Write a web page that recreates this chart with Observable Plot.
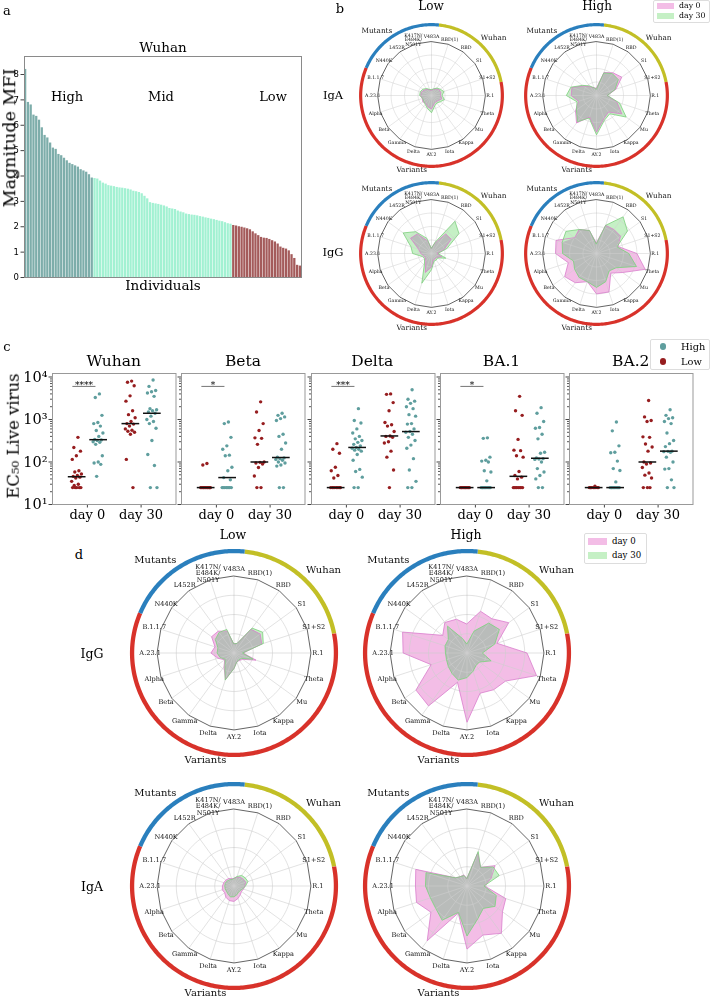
<!DOCTYPE html>
<html><head><meta charset="utf-8">
<script src="https://cdn.jsdelivr.net/npm/d3@7"></script>
<script src="https://cdn.jsdelivr.net/npm/@observablehq/plot@0.6"></script>
<style>
body{margin:0;background:#fff;}
#fig{position:relative;width:710px;height:999px;overflow:hidden;font-family:"DejaVu Serif",serif;background:#fff;}
.lbl{position:absolute;white-space:nowrap;line-height:1;}
.plt{position:absolute;will-change:transform;}
.leg{position:absolute;border:1px solid #ddd;border-radius:2px;background:#fff;box-sizing:border-box;}
</style></head><body><div id="fig"></div><script>
// ---------- Panel a data ----------
const highMFI = [8.2,6.9,6.8,6.4,6.35,6.2,5.9,5.6,5.5,5.3,5.1,5.05,4.85,4.8,4.7,4.6,4.5,4.45,4.4,4.35,4.25,4.2,4.15,4.05,3.92];
const midMFI = [3.9,3.88,3.8,3.72,3.68,3.62,3.6,3.58,3.55,3.53,3.52,3.5,3.48,3.45,3.4,3.38,3.35,3.3,3.2,3.1,2.95,2.92,2.9,2.88,2.85,2.82,2.78,2.72,2.7,2.68,2.62,2.58,2.55,2.5,2.48,2.46,2.45,2.43,2.4,2.38,2.35,2.33,2.3,2.28,2.25,2.22,2.2,2.16,2.12,2.1];
const lowMFI = [2.05,2.03,2.0,1.98,1.95,1.92,1.88,1.8,1.72,1.65,1.58,1.55,1.54,1.5,1.45,1.4,1.32,1.2,1.15,1.12,1.05,0.9,0.75,0.48,0.45];
const mfiTicks = [0,1,2,3,4,5,6,7,8];

// ---------- Radar data ----------
const cats = ["V483A","RBD(1)","RBD","S1","S1+S2","R.1","Theta","Mu","Kappa","Iota","AY.2","Delta","Gamma","Beta","Alpha","A.23.1","B.1.1.7","N440K","L452R","K417N/\nE484K/\nN501Y"];
const ringGroups = [
  {name:"Wuhan", a0:6, a1:79, color:"#c2bf26"},
  {name:"Variants", a0:79, a1:293, color:"#d8322a"},
  {name:"Mutants", a0:293, a1:366, color:"#2a7fbd"}
];
// b panel
const bIgALow0   = [0.10,0.12,0.15,0.18,0.18,0.17,0.20,0.16,0.14,0.16,0.25,0.22,0.18,0.20,0.18,0.20,0.20,0.17,0.14,0.11];
const bIgALow30  = [0.11,0.13,0.17,0.20,0.24,0.20,0.25,0.20,0.17,0.20,0.32,0.25,0.20,0.18,0.17,0.22,0.22,0.20,0.16,0.12];
const bIgAHigh0  = [0.14,0.45,0.52,0.58,0.38,0.20,0.40,0.58,0.38,0.45,0.68,0.42,0.63,0.48,0.35,0.47,0.48,0.30,0.20,0.15];
const bIgAHigh30 = [0.12,0.44,0.50,0.50,0.36,0.20,0.45,0.68,0.42,0.48,0.73,0.44,0.60,0.46,0.38,0.56,0.50,0.32,0.22,0.15];
const bIgGLow0   = [0.10,0.20,0.45,0.45,0.25,0.10,0.20,0.12,0.12,0.12,0.25,0.37,0.18,0.14,0.15,0.20,0.25,0.48,0.45,0.25];
const bIgGLow30  = [0.10,0.22,0.74,0.63,0.30,0.12,0.28,0.14,0.15,0.15,0.30,0.58,0.22,0.16,0.18,0.35,0.40,0.65,0.50,0.30];
const bIgGHigh0  = [0.20,0.55,0.55,0.55,0.42,0.75,0.95,0.60,0.45,0.75,0.75,0.55,0.67,0.73,0.55,0.76,0.79,0.50,0.55,0.45];
const bIgGHigh30 = [0.18,0.55,0.84,0.71,0.40,0.60,0.78,0.45,0.40,0.55,0.63,0.55,0.55,0.50,0.45,0.63,0.67,0.70,0.55,0.45];
// d panel
const dIgGLow0   = [0.12,0.13,0.38,0.42,0.38,0.12,0.30,0.14,0.12,0.12,0.20,0.36,0.22,0.15,0.22,0.30,0.26,0.36,0.35,0.30];
const dIgGLow30  = [0.12,0.13,0.40,0.46,0.40,0.11,0.26,0.12,0.11,0.12,0.20,0.37,0.20,0.14,0.19,0.22,0.22,0.30,0.33,0.32];
const dIgGHigh0  = [0.38,0.57,0.55,0.67,0.41,0.78,0.95,0.62,0.59,0.55,0.90,0.40,0.85,0.82,0.49,0.83,0.88,0.39,0.49,0.46];
const dIgGHigh30 = [0.12,0.30,0.48,0.52,0.38,0.20,0.33,0.20,0.20,0.25,0.32,0.37,0.33,0.30,0.28,0.28,0.30,0.30,0.43,0.20];
const dIgALow0   = [0.10,0.12,0.14,0.15,0.16,0.14,0.13,0.12,0.14,0.17,0.20,0.20,0.18,0.15,0.16,0.15,0.14,0.13,0.12,0.10];
const dIgALow30  = [0.10,0.13,0.17,0.18,0.19,0.15,0.12,0.10,0.10,0.12,0.14,0.15,0.13,0.12,0.12,0.12,0.12,0.11,0.10,0.09];
const dIgAHigh0  = [0.10,0.45,0.30,0.45,0.33,0.23,0.53,0.57,0.76,0.67,0.82,0.37,0.88,0.58,0.69,0.67,0.70,0.18,0.15,0.15];
const dIgAHigh30 = [0.10,0.47,0.30,0.42,0.44,0.22,0.40,0.45,0.36,0.45,0.65,0.36,0.55,0.50,0.50,0.54,0.56,0.18,0.15,0.14];

// ---------- Panel c data (EC50) ----------
const wuhanLow0   = [380,220,180,140,115,62,58,52,48,46,44,42,35,30,28,25,25,25,25,25];
const wuhanHigh0  = [4000,3300,1250,850,800,700,550,480,400,340,330,320,300,290,260,140,100,95,88,46];
const wuhanLow30  = [8000,7500,6200,3600,2700,1600,1300,1100,900,800,780,700,600,560,530,500,450,115,25];
const wuhanHigh30 = [8500,6000,4800,4500,4200,3500,1800,1700,1600,1500,1400,1200,1000,900,800,620,320,150,83,25,25];
const betaLow0    = [92,85,25,25,25,25,25,25,25,25,25,25,25,25,25,25];
const betaHigh0   = [870,800,380,240,200,145,140,75,62,43,38,25,25,25,25,25,25,25,25];
const betaLow30   = [2600,1500,800,550,370,360,260,100,98,95,90,74,47,25,25];
const betaHigh30  = [1400,1250,1150,1050,950,450,400,280,200,130,125,120,115,110,100,95,85,80,25,25];
const deltaLow0   = [270,200,160,75,62,48,42,25,25,25,25,25,25,25,25,25];
const deltaHigh0  = [1800,950,830,600,480,400,350,320,290,260,240,220,210,200,190,180,150,110,67,60,44,25,25];
const deltaLow30  = [4000,3900,2500,1600,850,750,700,520,410,400,380,300,280,180,130,65,25];
const deltaHigh30 = [5000,3000,2700,2400,2000,1800,1300,1200,800,780,600,520,500,450,380,320,250,210,120,65,35,25,25];
const ba1Low0     = [25,25,25,25,25,25,25,25,25,25,25,25];
const ba1High0    = [370,360,130,110,105,100,62,58,36,25,25,25,25,25,25,25,25,25,25,25];
const ba1Low30    = [3500,1600,1250,340,190,185,140,130,60,48,44,40,25,25,25,25,25,25,25,25];
const ba1High30   = [1900,1400,900,650,620,450,350,170,160,125,120,118,115,100,70,58,48,40,25,25];
const ba2Low0     = [27,25,25,25,25,25,25,25,25,25];
const ba2High0    = [870,540,240,170,165,105,70,63,34,25,25,25,25,25,25,25,25,25,25,25];
const ba2Low30    = [2800,1150,950,900,390,380,265,225,180,100,95,90,74,55,49,42,25,25,25];
const ba2High30   = [1700,1250,1100,1050,900,800,480,320,270,230,180,178,175,170,130,100,70,68,38,25,25];
const ecMajor = [10,100,1000,10000];
const ecMinor = [20,30,40,50,60,70,80,90,200,300,400,500,600,700,800,900,2000,3000,4000,5000,6000,7000,8000,9000];
const dayTicks = [0,1];
const dayNames = ["day 0","day 30"];

const RED = "#961d1f", TEAL = "#5f9e9e";
const PINKF = "#f3bde6", GREENF = "#c5f0c5", GREYF = "#b9bcba", PINKS = "#d97dcd", GREENS = "#7ccf7c";

const fig = document.getElementById("fig");
function txt(s, x, y, size, o = {}) {
  const el = document.createElement("div");
  el.className = "lbl";
  el.textContent = s;
  el.style.left = x + "px"; el.style.top = y + "px";
  el.style.fontSize = size + "px";
  el.style.fontFamily = o.family || '"DejaVu Serif", serif';
  const tx = o.anchor === "start" ? "0" : o.anchor === "end" ? "-100%" : "-50%";
  el.style.transform = `translate(${tx},-50%)` + (o.rotate ? ` rotate(${o.rotate}deg)` : "");
  fig.appendChild(el);
  return el;
}
function place(svg, left, top) {
  svg.classList.add("plt");
  svg.style.left = left + "px"; svg.style.top = top + "px";
  fig.appendChild(svg);
}

// ---------- Panel a ----------
const bars = [
  ...highMFI.map(v => ({v, g:"High"})),
  ...midMFI.map(v => ({v, g:"Mid"})),
  ...lowMFI.map(v => ({v, g:"Low"}))
].map((d, i) => ({...d, i}));
const aPlot = Plot.plot({
  width: 310, height: 290, marginLeft: 24, marginRight: 9, marginTop: 56, marginBottom: 13,
  x: {type: "band", domain: bars.map(d => d.i), paddingInner: 0.18, paddingOuter: 0, axis: null},
  y: {domain: [0, 8.71]},
  color: {domain: ["High","Mid","Low"], range: ["#7dadaa","#a2f1d2","#a45b5b"]},
  style: {background: "none", fontFamily: '"DejaVu Sans", sans-serif', overflow: "visible"},
  marks: [
    Plot.barY(bars, {x: "i", y: "v", fill: "g"}),
    Plot.axisY(mfiTicks, {tickSize: 3.5, tickPadding: 2, fontSize: 8.5, label: null, stroke: "#444"}),
    Plot.frame({stroke: "#8a8a8a"})
  ]
});
place(aPlot, 0, 0);
txt("a", 7, 10, 13);
txt("Wuhan", 163, 48, 13.5);
txt("High", 67, 96, 13);
txt("Mid", 161, 96, 13);
txt("Low", 273, 96, 13);
txt("Individuals", 163, 286, 13.5);
txt("Magnitude MFI", 10, 138, 17.5, {rotate: -90});

// ---------- Radar ----------
function radar(v0, v30, o) {
  const {unit, ringR, ringW, catFont, grpFont, gridW} = o;
  const D = 1.8, size = Math.round(2 * D * unit);
  const N = cats.length;
  const th = i => i * 2 * Math.PI / N;
  const X = d => d.v * Math.sin(th(d.i)), Y = d => d.v * Math.cos(th(d.i));
  const s0 = v0.map((v, i) => ({i, v}));
  const s30 = v30.map((v, i) => ({i, v}));
  const smin = v0.map((v, i) => ({i, v: Math.min(v, v30[i])}));
  const rim = cats.map((c, i) => ({i, v: 1}));
  const circ = [0.25, 0.5, 0.75].flatMap(r => d3.range(0, 361, 3).map(a => ({r, a})));
  const rr = ringR / unit;
  const arcMarks = ringGroups.map(g => Plot.line(d3.range(g.a0, g.a1 + 0.01, 1).map(a => ({a})), {
    x: d => rr * Math.sin(d.a * Math.PI / 180), y: d => rr * Math.cos(d.a * Math.PI / 180),
    stroke: g.color, strokeWidth: ringW, strokeLinecap: "butt"
  }));
  const grpLabels = [
    {name: "Wuhan", a: 47, r: rr * 1.2},
    {name: "Mutants", a: 320, r: rr * 1.2},
    {name: "Variants", a: 195, r: rr * 1.08}
  ];
  return Plot.plot({
    width: size, height: size, margin: 0,
    x: {domain: [-D, D], axis: null}, y: {domain: [-D, D], axis: null},
    style: {background: "none", overflow: "visible", fontFamily: '"DejaVu Serif", serif'},
    marks: [
      Plot.line(s0, {x: X, y: Y, curve: "linear-closed", fill: PINKF, stroke: "none"}),
      Plot.line(s30, {x: X, y: Y, curve: "linear-closed", fill: GREENF, stroke: "none"}),
      Plot.line(smin, {x: X, y: Y, curve: "linear-closed", fill: GREYF, stroke: "none"}),
      Plot.line(circ, {x: d => d.r * Math.sin(d.a * Math.PI / 180), y: d => d.r * Math.cos(d.a * Math.PI / 180), z: "r", stroke: "#cfcfcf", strokeWidth: gridW}),
      Plot.link(rim, {x1: 0, y1: 0, x2: X, y2: Y, stroke: "#cfcfcf", strokeWidth: gridW}),
      Plot.line(s0, {x: X, y: Y, curve: "linear-closed", stroke: PINKS, strokeWidth: 0.8}),
      Plot.line(s30, {x: X, y: Y, curve: "linear-closed", stroke: GREENS, strokeWidth: 0.8}),
      Plot.line(rim, {x: X, y: Y, curve: "linear-closed", stroke: "#222", strokeWidth: 0.7}),
      ...arcMarks,
      Plot.text(rim, {x: d => 1.09 * Math.sin(th(d.i)), y: d => 1.09 * Math.cos(th(d.i)), text: d => cats[d.i], fontSize: catFont, lineAnchor: "middle", fill: "#111", lineHeight: 0.95}),
      Plot.text(grpLabels, {x: d => d.r * Math.sin(d.a * Math.PI / 180), y: d => d.r * Math.cos(d.a * Math.PI / 180), text: "name", fontSize: grpFont, lineAnchor: "middle", fill: "#111"})
    ]
  });
}
const bOpt = {unit: 54, ringR: 71, ringW: 3.2, catFont: 4.7, grpFont: 7.3, gridW: 0.5};
const dOpt = {unit: 77, ringR: 102, ringW: 4.3, catFont: 6.6, grpFont: 10, gridW: 0.6};
function placeRadar(v0, v30, opt, cx, cy) {
  const svg = radar(v0, v30, opt);
  const size = Math.round(2 * 1.8 * opt.unit);
  place(svg, cx - size / 2, cy - size / 2);
}
placeRadar(bIgALow0, bIgALow30, bOpt, 431, 95);
placeRadar(bIgAHigh0, bIgAHigh30, bOpt, 596, 95);
placeRadar(bIgGLow0, bIgGLow30, bOpt, 431, 253);
placeRadar(bIgGHigh0, bIgGHigh30, bOpt, 596, 253);
txt("b", 340, 8, 13);
txt("Low", 431, 6, 12);
txt("High", 597, 6, 12);
txt("IgA", 333, 96, 11.5);
txt("IgG", 333, 253, 11.5);

placeRadar(dIgGLow0, dIgGLow30, dOpt, 233, 652);
placeRadar(dIgGHigh0, dIgGHigh30, dOpt, 466, 652);
placeRadar(dIgALow0, dIgALow30, dOpt, 233, 885);
placeRadar(dIgAHigh0, dIgAHigh30, dOpt, 466, 885);
txt("d", 79, 554, 13);
txt("Low", 233, 535, 12.5);
txt("High", 466, 535, 12.5);
txt("IgG", 92, 654, 12.5);
txt("IgA", 92, 887, 12.5);

function radarLegend(left, top, w, h, sw, fs, rowY) {
  const box = document.createElement("div");
  box.className = "leg";
  box.style.left = left + "px"; box.style.top = top + "px";
  box.style.width = w + "px"; box.style.height = h + "px";
  fig.appendChild(box);
  [[PINKF, "day 0"], [GREENF, "day 30"]].forEach(([c, t], k) => {
    const s = document.createElement("div");
    s.style.cssText = `position:absolute;left:${left + 4}px;top:${rowY[k] - sw[1] / 2}px;width:${sw[0]}px;height:${sw[1]}px;background:${c};`;
    fig.appendChild(s);
    txt(t, left + 6 + sw[0] + 3, rowY[k], fs, {anchor: "start"});
  });
}
radarLegend(653, 0, 57, 23, [17, 6], 7.8, [5.5, 16]);
radarLegend(584, 533, 63, 31, [19, 7], 8.6, [541, 555]);

// ---------- Panel c ----------
const viruses = [
  {name: "Wuhan", sets: [wuhanLow0, wuhanHigh0, wuhanLow30, wuhanHigh30], sig: "****"},
  {name: "Beta", sets: [betaLow0, betaHigh0, betaLow30, betaHigh30], sig: "*"},
  {name: "Delta", sets: [deltaLow0, deltaHigh0, deltaLow30, deltaHigh30], sig: "***"},
  {name: "BA.1", sets: [ba1Low0, ba1High0, ba1Low30, ba1High30], sig: "*"},
  {name: "BA.2", sets: [ba2Low0, ba2High0, ba2Low30, ba2High30], sig: null}
];
const sup = {1: "¹", 2: "²", 3: "³", 4: "⁴"};
const setMeta = [[0, "Low"], [0, "High"], [1, "Low"], [1, "High"]];
viruses.forEach((vr, k) => {
  const left = 52 + k * 129.25, w = 123.5;
  const ml = 52, mr = 8, mt = 10, mb = 26, fh = 131;
  const pts = [], meds = [];
  vr.sets.forEach((arr, s) => {
    const [day, g] = setMeta[s];
    arr.forEach((v, i) => pts.push({v, day, g, i}));
    meds.push({day, g, m: d3.median(arr)});
  });
  const pos = d => d.day + (d.g === "Low" ? -0.2 : 0.2);
  const jit = d => ((((d.i + 1) * 0.6180339) % 1) - 0.5) * 0.2;
  const marks = [
    Plot.axisY(ecMinor, {tickSize: 2, tickFormat: () => "", label: null, stroke: "#555"}),
    Plot.axisY(ecMajor, {tickSize: 3.5, tickPadding: 1.5, label: null, stroke: "#444", fontSize: 14.5,
      tickFormat: k === 0 ? (d => "10" + sup[Math.round(Math.log10(d))]) : (() => "")}),
    Plot.axisX(dayTicks, {tickSize: 3.5, tickPadding: 1.5, label: null, stroke: "#444", fontSize: 13, tickFormat: d => dayNames[d]}),
    Plot.dot(pts, {x: d => pos(d) + jit(d), y: "v", r: 1.7, fill: "g", stroke: "none"}),
    Plot.link(meds, {x1: d => pos(d) - 0.165, x2: d => pos(d) + 0.165, y1: "m", y2: "m", stroke: "#111", strokeWidth: 1.5}),
    Plot.frame({stroke: "#999"})
  ];
  if (vr.sig) {
    marks.push(Plot.link([vr.sig], {x1: -0.28, x2: 0.15, y1: 6000, y2: 6000, stroke: "#666", strokeWidth: 0.9}));
    marks.push(Plot.text([vr.sig], {x: -0.065, y: 6000, text: d => d, lineAnchor: "bottom", dy: 2, fontSize: 9}));
  }
  const p = Plot.plot({
    width: ml + w + mr, height: mt + fh + mb, marginLeft: ml, marginRight: mr, marginTop: mt, marginBottom: mb,
    x: {domain: [-0.65, 1.65]},
    y: {type: "log", domain: [10, 12080]},
    color: {domain: ["High", "Low"], range: [TEAL, RED]},
    style: {background: "none", fontFamily: '"DejaVu Serif", serif', overflow: "visible"},
    marks
  });
  place(p, left - ml, 373 - mt);
  txt(vr.name, left + w / 2, 362, 15.5);
});
txt("c", 7, 346, 13);
txt("EC₅₀ Live virus", 14, 436, 16.5, {rotate: -90});
// c legend
(() => {
  const box = document.createElement("div");
  box.className = "leg";
  box.style.cssText += "left:650px;top:339px;width:60px;height:31px;";
  fig.appendChild(box);
  [[TEAL, "High", 346.5], [RED, "Low", 361.5]].forEach(([c, t, y]) => {
    const s = document.createElement("div");
    s.style.cssText = `position:absolute;left:${663 - 3.3}px;top:${y - 3.3}px;width:6.6px;height:6.6px;border-radius:50%;background:${c};`;
    fig.appendChild(s);
    txt(t, 681, y, 9.8, {anchor: "start"});
  });
})();
</script></body></html>
